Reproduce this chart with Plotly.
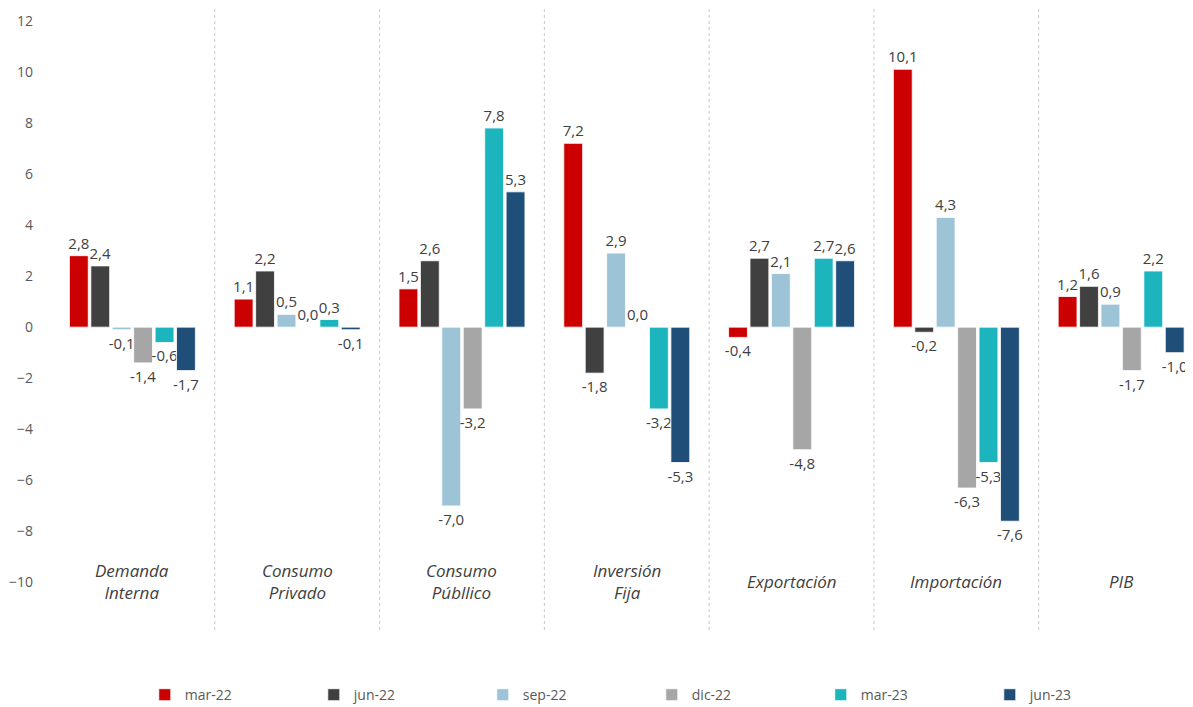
import plotly.graph_objects as go

categories = ["Demanda<br>Interna", "Consumo<br>Privado", "Consumo<br>Públlico",
              "Inversión<br>Fija", "Exportación", "Importación", "PIB"]
series_names = ["mar-22", "jun-22", "sep-22", "dic-22", "mar-23", "jun-23"]
mar22 = [2.8, 1.1, 1.5, 7.2, -0.4, 10.1, 1.2]
jun22 = [2.4, 2.2, 2.6, -1.8, 2.7, -0.2, 1.6]
sep22 = [-0.1, 0.5, -7.0, 2.9, 2.1, 4.3, 0.9]
dic22 = [-1.4, 0.0, -3.2, 0.0, -4.8, -6.3, -1.7]
mar23 = [-0.6, 0.3, 7.8, -3.2, 2.7, -5.3, 2.2]
jun23 = [-1.7, -0.1, 5.3, -5.3, 2.6, -7.6, -1.0]
ytick_vals = [-10, -8, -6, -4, -2, 0, 2, 4, 6, 8, 10, 12]

series_values = [mar22, jun22, sep22, dic22, mar23, jun23]
colors = ["#CC0000", "#404040", "#9DC3D6", "#A6A6A6", "#1CB5BE", "#1F4E79"]

xidx = list(range(len(categories)))

fig = go.Figure()
for name, vals, col in zip(series_names, series_values, colors):
    fig.add_trace(go.Bar(
        x=xidx, y=vals, name=name,
        marker=dict(color=col, line=dict(color="rgba(255,255,255,0.8)", width=1)),
        texttemplate="%{y:.1f}", textposition="outside", constraintext="none",
        textfont=dict(size=15, color="#404040", family="Open Sans"),
        cliponaxis=False,
    ))

shapes = []
for i in range(len(categories) - 1):
    shapes.append(dict(type="line", xref="x", yref="paper", x0=i + 0.5, x1=i + 0.5,
                       y0=0, y1=1, line=dict(color="#C8C8C8", width=1, dash="dot")))

annotations = []
for i, c in enumerate(categories):
    annotations.append(dict(x=i, y=-9.95, xref="x", yref="y", text="<i>" + c + "</i>",
                            showarrow=False, yanchor="middle",
                            font=dict(size=17, color="#404040", family="Open Sans")))

fig.update_layout(
    width=1185, height=699,
    margin=dict(l=42, r=1, t=0, b=77),
    paper_bgcolor="white", plot_bgcolor="white",
    barmode="group", bargap=0.22, bargroupgap=0.12,
    separators=",.",
    showlegend=True,
    legend=dict(orientation="h", x=0.083, xanchor="left",
                yref="container", y=0.017, yanchor="middle",
                entrywidth=124, entrywidthmode="pixels",
                font=dict(size=14, color="#595959", family="Open Sans"),
                itemwidth=30),
    shapes=shapes,
    annotations=annotations,
    xaxis=dict(range=[-0.5, 6.43], showticklabels=False, showgrid=False,
               zeroline=False, showline=False, ticks=""),
    yaxis=dict(range=[-11.86, 12.5], tickvals=ytick_vals, showgrid=False,
               zeroline=False, showline=False, ticklabelstandoff=16, automargin=False,
               tickfont=dict(size=14, color="#595959", family="Open Sans")),
)

fig.write_html("out.html")
